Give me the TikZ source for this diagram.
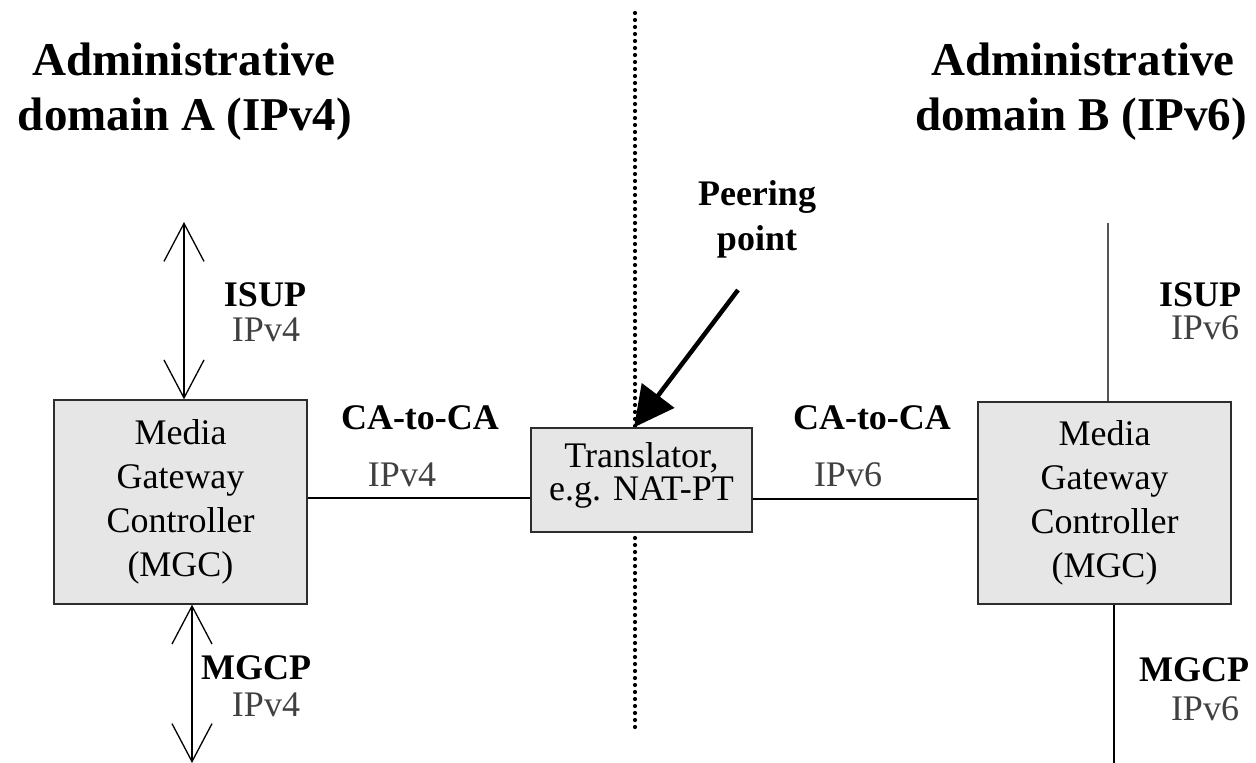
\documentclass[tikz,border=0pt]{standalone}
\usepackage{fontspec}
\setmainfont{Liberation Serif}
\usetikzlibrary{arrows.meta,calc}
\definecolor{boxfill}{RGB}{230,230,230}
\definecolor{boxline}{RGB}{45,45,45}
\definecolor{iptext}{RGB}{64,64,64}
\definecolor{greyline}{RGB}{85,85,85}
\begin{document}
\begin{tikzpicture}[x=1pt,y=-1pt,
  box/.style={draw=boxline,fill=boxfill,line width=1.3pt,inner sep=0pt,align=center,font=\fontsize{36}{44}\selectfont},
  title/.style={font=\fontsize{47}{55}\selectfont\bfseries,anchor=base,inner sep=0pt},
  lbl/.style={font=\fontsize{36}{43}\selectfont\bfseries,anchor=base,inner sep=0pt},
  ip/.style={font=\fontsize{36}{43}\selectfont,text=iptext,anchor=base,inner sep=0pt},
  link/.style={line width=1.3pt,draw=black},
  barbs/.style={link,{Straight Barb[length=38pt,width=40pt]}-{Straight Barb[length=38pt,width=40pt]}},
  dots/.style={line width=4.2pt,line cap=round,dash pattern=on 0pt off 7pt},
  bigarrow/.style={line width=4.5pt,-{Triangle[length=40pt,width=40pt]}}
]
\useasboundingbox (0,0) rectangle (1256,763);

% peering boundary
\coordinate (dtop) at (635,13);
\coordinate (dbot) at (635,733);
\draw[dots] (dtop) -- (dbot);

% titles
\node[title] (tA1) at (184,75) {Administrative};
\node[title] (tA2) at (185,130) {domain A (IPv4)};
\node[title] (tB1) at (1083,75) {Administrative};
\node[title] (tB2) at (1081,130) {domain B (IPv6)};

% boxes
\node[box,minimum width=253pt,minimum height=204pt] (mgcA) at (180.5,502) {Media\\Gateway\\Controller\\(MGC)};
\node[box,minimum width=221pt,minimum height=104pt] (trans) at (641.5,480) {};
\node[font=\fontsize{36}{33}\selectfont,align=center,inner sep=0pt] (transtxt) at ([yshift=5pt]trans.center) {Translator,\\e.g. NAT-PT};
\node[box,minimum width=253pt,minimum height=202pt] (mgcB) at (1104.5,503) {Media\\Gateway\\Controller\\(MGC)};

% peering point label and arrow
\node[lbl] (pp1) at (757,205) {Peering};
\node[lbl] (pp2) at (757,250) {point};
\coordinate (ppstart) at (738,290);
\coordinate (pptip) at (634,0);
\draw[bigarrow] (ppstart) -- (trans.north -| pptip);

% left side signalling
\coordinate (isupA) at (184,222);
\draw[barbs] (isupA) -- (isupA |- mgcA.north);
\coordinate (mgcpA) at (192,763);
\draw[barbs] (mgcpA |- mgcA.south) -- (mgcpA);

% right side signalling
\coordinate (isupB) at (1108,223);
\draw[line width=1.3pt,draw=greyline] (isupB) -- (isupB |- mgcB.north);
\coordinate (mgcpB) at (1114,763);
\draw[link] (mgcpB |- mgcB.south) -- (mgcpB);

% CA-to-CA links
\draw[link] ([yshift=4pt]mgcA.east) -- ([yshift=4pt]mgcA.east -| trans.west);
\draw[link] ([yshift=4pt]mgcB.west -| trans.east) -- ([yshift=4pt]mgcB.west);

% labels
\node[lbl] (isupAl) at (265,306) {ISUP};
\node[ip] (isupAip) at (266,341) {IPv4};
\node[lbl] (isupBl) at (1200,306) {ISUP};
\node[ip] (isupBip) at (1205,339) {IPv6};
\node[lbl] (caAl) at (420,429) {CA-to-CA};
\node[ip] (caAip) at (402,486) {IPv4};
\node[lbl] (caBl) at (872,429) {CA-to-CA};
\node[ip] (caBip) at (848,486) {IPv6};
\node[lbl] (mgcpAl) at (256,679) {MGCP};
\node[ip] (mgcpAip) at (266,716) {IPv4};
\node[lbl] (mgcpBl) at (1194,681) {MGCP};
\node[ip] (mgcpBip) at (1205,720) {IPv6};
\end{tikzpicture}
\end{document}
